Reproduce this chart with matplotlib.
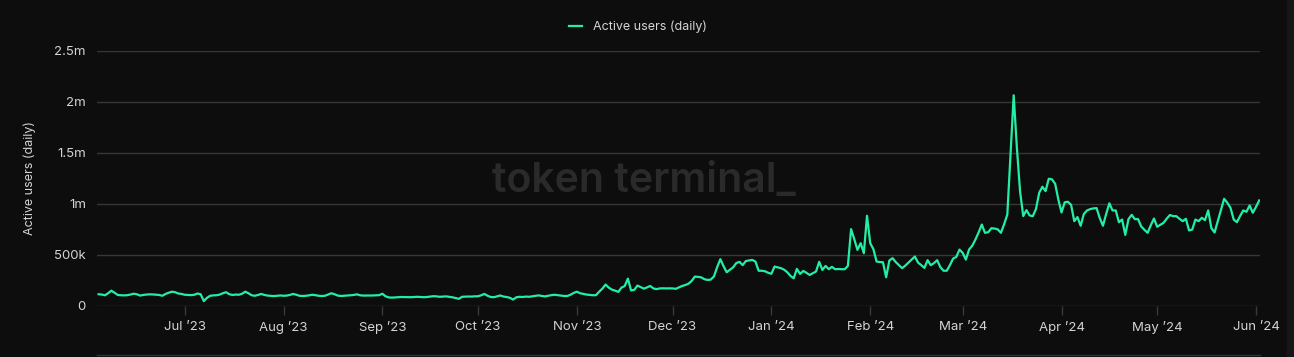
import numpy as np
import pandas as pd
import matplotlib
matplotlib.use("Agg")
import matplotlib.pyplot as plt
import matplotlib.dates as mdates
from matplotlib.lines import Line2D

plt.rcParams['font.family'] = ['Inter', 'DejaVu Sans']

# daily active users, thousands
jun23 = [115, 112, 105, 125, 150, 130, 108, 105, 104, 106, 112, 120, 115, 102, 108, 112,
         114, 113, 110, 108, 100, 118, 130, 140, 135, 122, 118]
jul23 = [110, 108, 106, 110, 122, 115, 48, 80, 100, 104, 105, 112, 125, 135, 115, 108,
         112, 110, 120, 140, 125, 105, 100, 108, 118, 108, 102, 100, 97, 100, 103]
aug23 = [100, 102, 108, 118, 110, 100, 98, 100, 104, 110, 106, 100, 98, 100, 112, 125,
         115, 102, 98, 100, 102, 105, 108, 114, 105, 102, 102, 103, 103, 104, 106]
sep23 = [120, 95, 84, 82, 84, 86, 88, 87, 85, 86, 88, 90, 88, 86, 88, 92,
         96, 94, 90, 92, 94, 90, 85, 78, 70, 90, 92, 93, 92, 95]
oct23 = [95, 105, 118, 100, 88, 86, 95, 103, 92, 88, 80, 63, 85, 90, 88, 92,
         90, 95, 100, 104, 98, 94, 100, 106, 110, 106, 102, 98, 98, 110, 128]
nov23 = [140, 125, 118, 112, 108, 105, 106, 140, 170, 210, 180, 160, 150, 138, 180, 195,
         268, 152, 158, 200, 185, 170, 182, 196, 172, 165, 172, 173, 172, 173]
dec23 = [172, 168, 182, 196, 205, 218, 245, 288, 285, 280, 262, 255, 258, 290, 380, 458,
         390, 330, 355, 378, 420, 432, 400, 440, 445, 451, 435, 345, 345, 340, 325]
jan24 = [315, 386, 378, 370, 355, 330, 294, 271, 363, 314, 343, 325, 304, 320, 337, 432,
         353, 392, 360, 383, 360, 362, 360, 360, 392, 752, 654, 549, 615, 517, 883]
feb24 = [615, 556, 435, 430, 428, 281, 445, 468, 430, 400, 370, 395, 425, 455, 484, 425,
         400, 373, 448, 399, 420, 448, 380, 345, 345, 400, 464, 480, 552]
mar24 = [520, 454, 552, 590, 650, 720, 797, 716, 722, 761, 758, 750, 716, 800, 895, 1480,
         2062, 1550, 1120, 880, 938, 886, 879, 950, 1108, 1167, 1124, 1245, 1239, 1196, 1042]
apr24 = [915, 1015, 1020, 990, 830, 870, 785, 900, 935, 948, 955, 958, 860, 785, 900, 1005,
         935, 935, 820, 846, 696, 850, 892, 850, 850, 778, 745, 716, 790, 856]
may24 = [775, 795, 814, 855, 890, 879, 879, 853, 830, 853, 739, 748, 846, 830, 863, 840,
         935, 762, 719, 830, 940, 1049, 1010, 961, 846, 820, 880, 935, 922, 984, 912]
jun24 = [970, 1033]

series_name = "Active users (daily)"
yticks = [0, 500e3, 1e6, 1.5e6, 2e6, 2.5e6]
ytick_labels = ["0", "500k", "1m", "1.5m", "2m", "2.5m"]

values = np.array(jun23 + jul23 + aug23 + sep23 + oct23 + nov23 + dec23 + jan24
                  + feb24 + mar24 + apr24 + may24 + jun24) * 1000
dates = pd.date_range("2023-06-04", periods=len(values), freq="D")

bg = "#0d0d0d"
green = "#22efa5"
txt = "#d4d4d4"

fig = plt.figure(figsize=(12.94, 3.57), dpi=100, facecolor=bg)
ax = fig.add_axes([97 / 1294, 1 - 306 / 357, (1260 - 97) / 1294, (306 - 50.5) / 357])
ax.set_facecolor(bg)

# watermark
fig.text(644 / 1294, 1 - 181 / 357, "token terminal_", ha="center", va="center",
         fontsize=29.5, color="#2a2a2a", fontweight="semibold", zorder=0)

ax.plot(dates, values, color=green, lw=1.6, label=series_name, zorder=3)

ax.set_ylim(0, 2.5e6)
ax.set_xlim(dates[0] - pd.Timedelta(hours=12), dates[-1] + pd.Timedelta(hours=6))
ax.set_yticks(yticks)
ax.set_yticklabels(ytick_labels)
ax.grid(axis="y", color="#363636", lw=1)
ax.set_axisbelow(True)
for s in ax.spines.values():
    s.set_visible(False)

ax.xaxis.set_major_locator(mdates.MonthLocator())
ax.xaxis.set_major_formatter(mdates.DateFormatter("%b \u2019%y"))
ax.tick_params(axis="x", colors="#3a3a3a", length=6.5, width=1, pad=4, labelcolor=txt, labelsize=9.5)
ax.tick_params(axis="y", length=0, pad=8, labelcolor=txt, labelsize=9.5)
ax.set_ylabel(series_name, color=txt, fontsize=9, labelpad=13)

fig.legend(loc="center", bbox_to_anchor=(638 / 1294, 1 - 27 / 357), frameon=False,
           handlelength=1.0, handletextpad=0.9, fontsize=9, labelcolor=txt)

# navigator strip edge at the bottom and right border
fig.add_artist(Line2D([97 / 1294, 1260 / 1294], [1 - 355 / 357] * 2, color="#333333", lw=1))
fig.add_artist(plt.Rectangle((1287 / 1294, 0), 7 / 1294, 1, color="#161616", transform=fig.transFigure))

fig.savefig("out.png", dpi=100, facecolor=bg)
